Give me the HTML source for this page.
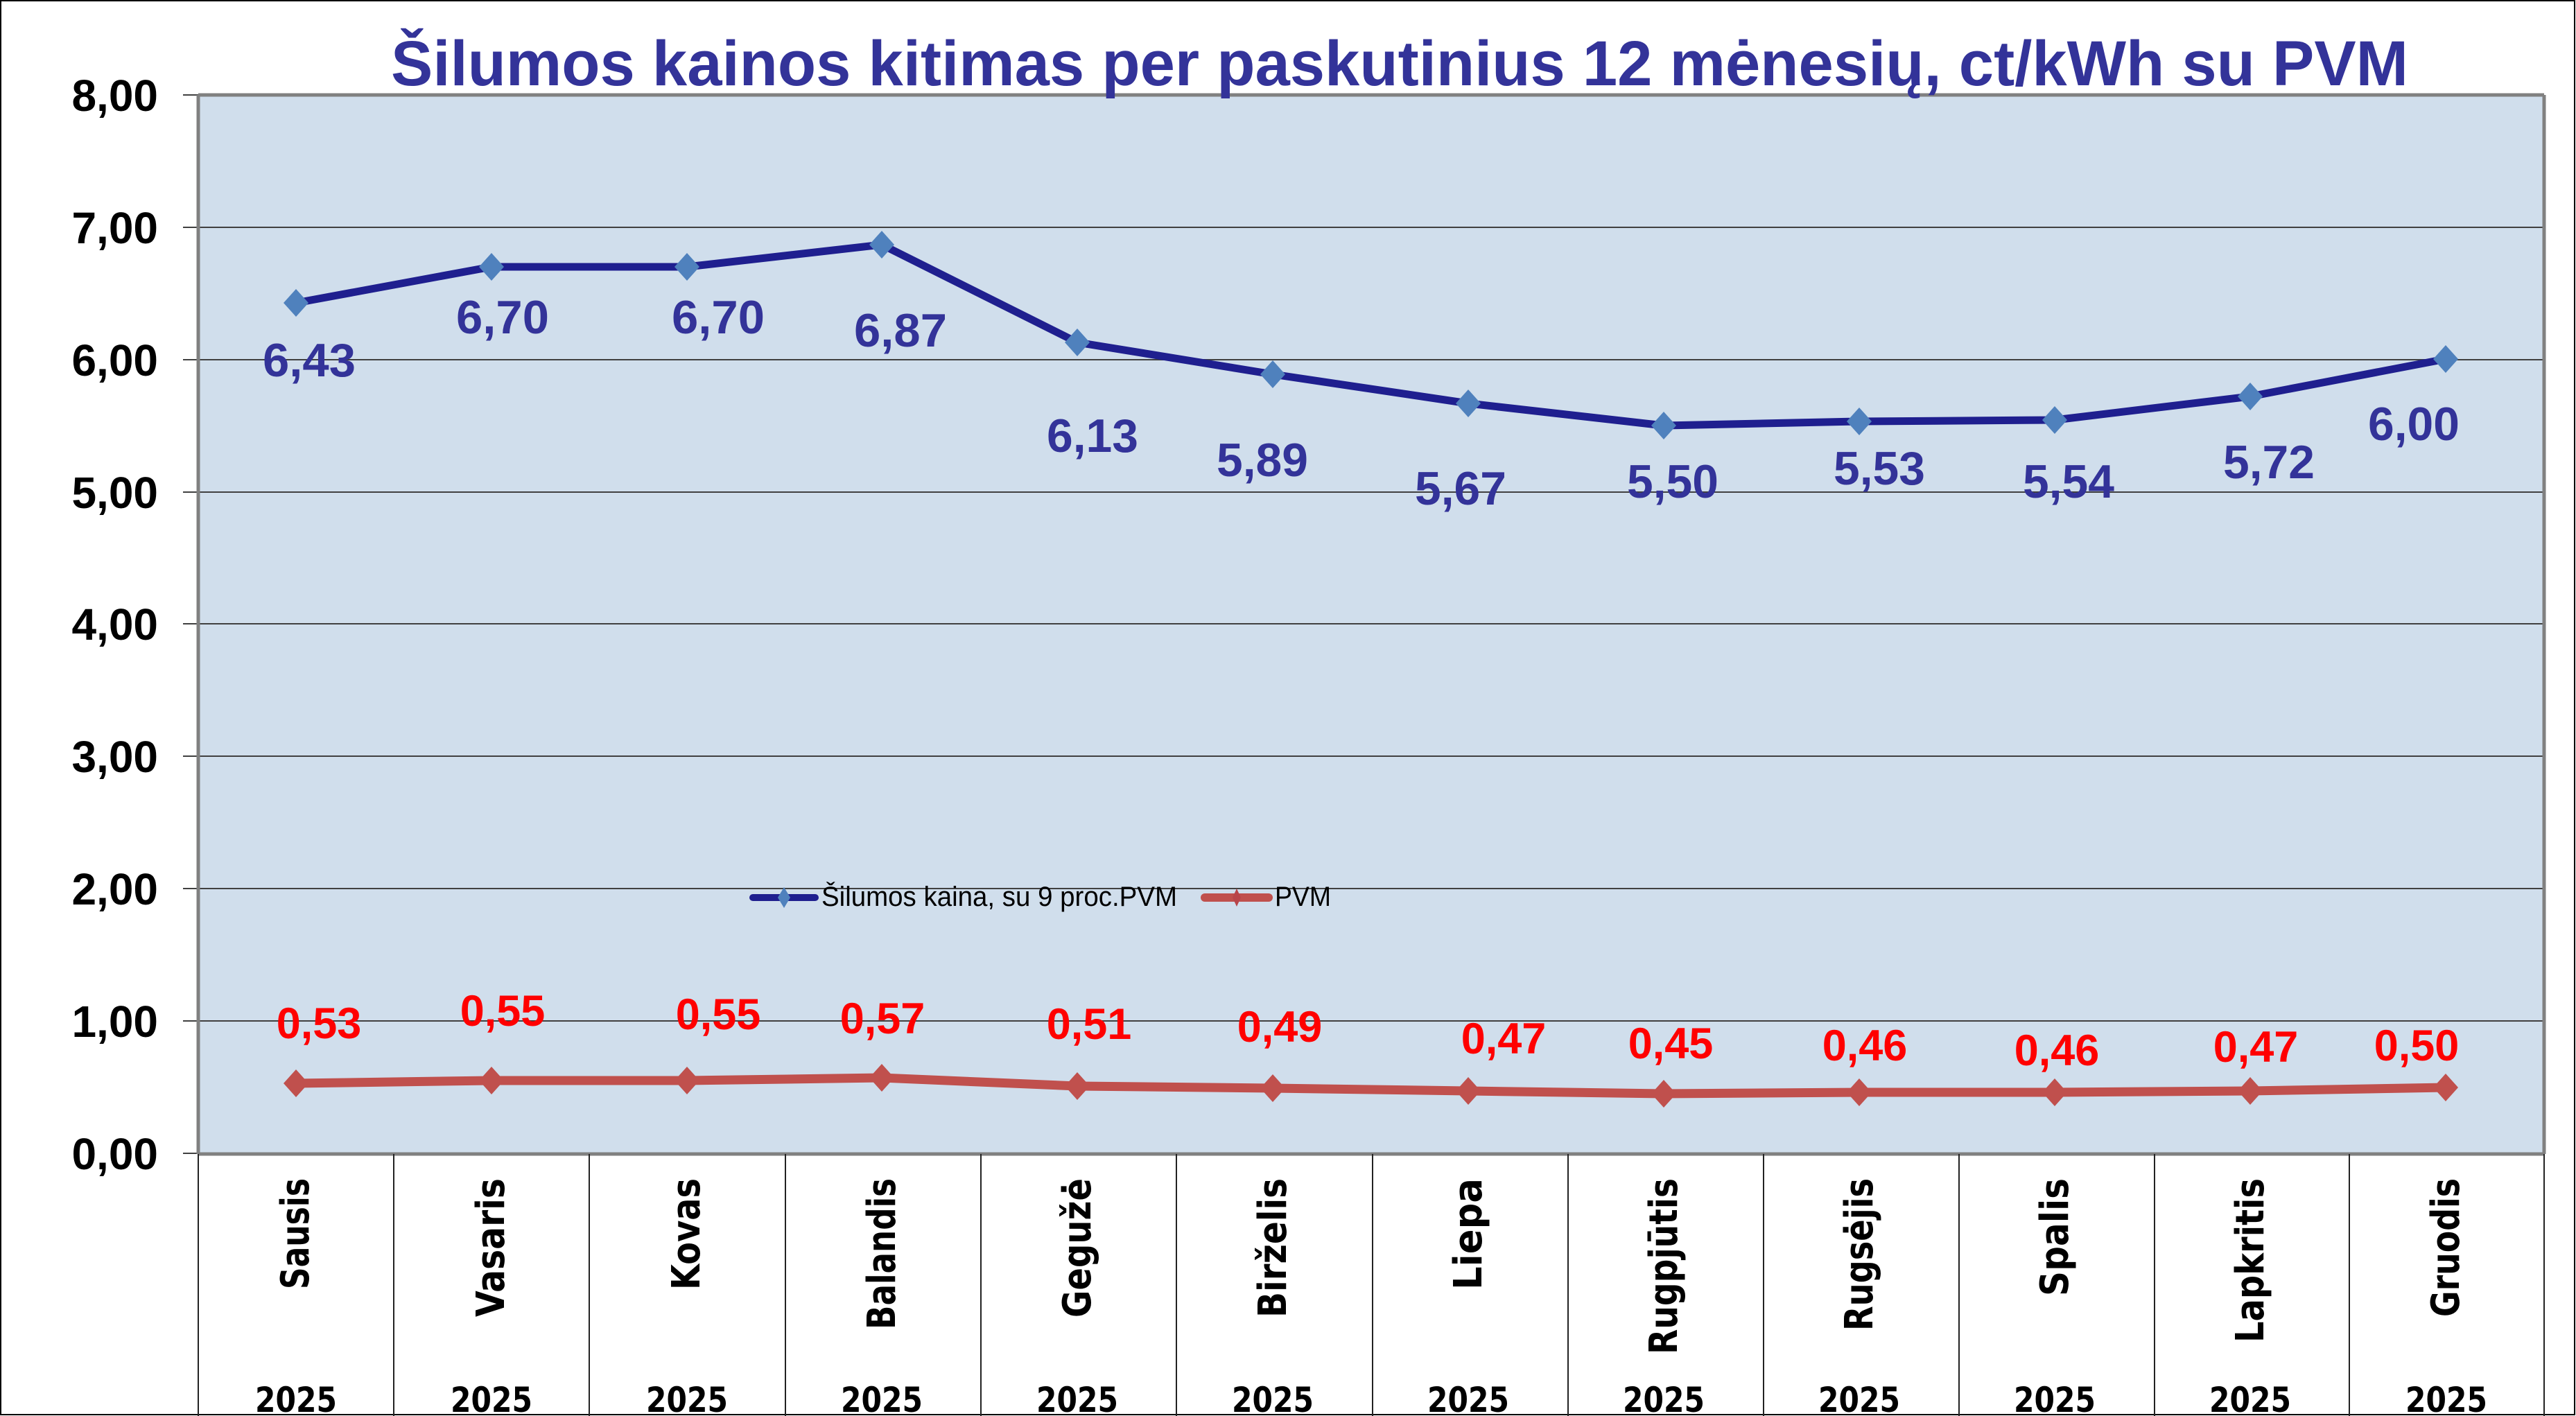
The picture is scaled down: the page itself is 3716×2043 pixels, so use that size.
<!DOCTYPE html>
<html><head><meta charset="utf-8"><style>
html,body{margin:0;padding:0;background:#fff;}
svg{display:block;}
</style></head><body>
<svg width="3716" height="2043" viewBox="0 0 3716 2043" xmlns="http://www.w3.org/2000/svg" font-family="Liberation Sans, DejaVu Sans, sans-serif">
<rect x="0" y="0" width="3716" height="2043" fill="#fff"/>
<rect x="1" y="1" width="3713" height="2040" fill="none" stroke="#000" stroke-width="2"/>
<rect x="286" y="137" width="3384" height="1527" fill="#D0DEEC"/>
<g stroke="#404040" stroke-width="2">
<line x1="264" y1="137" x2="3670" y2="137"/>
<line x1="264" y1="328" x2="3670" y2="328"/>
<line x1="264" y1="519" x2="3670" y2="519"/>
<line x1="264" y1="710" x2="3670" y2="710"/>
<line x1="264" y1="900" x2="3670" y2="900"/>
<line x1="264" y1="1091" x2="3670" y2="1091"/>
<line x1="264" y1="1282" x2="3670" y2="1282"/>
<line x1="264" y1="1473" x2="3670" y2="1473"/>
<line x1="264" y1="1664" x2="286" y2="1664"/>
</g>
<g stroke="#808080" stroke-width="5" fill="none">
<line x1="286" y1="137" x2="3670" y2="137"/>
<line x1="286" y1="137" x2="286" y2="1665"/>
<line x1="3670" y1="137" x2="3670" y2="1665"/>
<line x1="286" y1="1665" x2="3670" y2="1665"/>
</g>
<g stroke="#222" stroke-width="2">
<line x1="286" y1="1665" x2="286" y2="2043"/>
<line x1="568" y1="1665" x2="568" y2="2043"/>
<line x1="850" y1="1665" x2="850" y2="2043"/>
<line x1="1133" y1="1665" x2="1133" y2="2043"/>
<line x1="1415" y1="1665" x2="1415" y2="2043"/>
<line x1="1697" y1="1665" x2="1697" y2="2043"/>
<line x1="1980" y1="1665" x2="1980" y2="2043"/>
<line x1="2262" y1="1665" x2="2262" y2="2043"/>
<line x1="2544" y1="1665" x2="2544" y2="2043"/>
<line x1="2826" y1="1665" x2="2826" y2="2043"/>
<line x1="3108" y1="1665" x2="3108" y2="2043"/>
<line x1="3389" y1="1665" x2="3389" y2="2043"/>
<line x1="3670" y1="1665" x2="3670" y2="2043"/>
</g>
<text x="2019" y="123" text-anchor="middle" font-size="92" font-weight="bold" fill="#333399" textLength="2910" lengthAdjust="spacingAndGlyphs">Šilumos kainos kitimas per paskutinius 12 mėnesių, ct/kWh su PVM</text>
<g font-size="64" font-weight="bold" fill="#000" text-anchor="end">
<text x="228" y="160">8,00</text>
<text x="228" y="351">7,00</text>
<text x="228" y="542">6,00</text>
<text x="228" y="733">5,00</text>
<text x="228" y="923">4,00</text>
<text x="228" y="1114">3,00</text>
<text x="228" y="1305">2,00</text>
<text x="228" y="1496">1,00</text>
<text x="228" y="1687">0,00</text>
</g>
<polyline fill="none" stroke="#1F1F8F" stroke-width="11" stroke-linejoin="round"
points="427,437 709,385 991,385 1272,353 1554,494 1836,540 2118,582 2400,614 2682,608 2964,606 3246,572 3528,518"/>
<g fill="#4F81BD">
<path d="M427,417 l18,20 l-18,20 l-18,-20z"/>
<path d="M709,365 l18,20 l-18,20 l-18,-20z"/>
<path d="M991,365 l18,20 l-18,20 l-18,-20z"/>
<path d="M1272,333 l18,20 l-18,20 l-18,-20z"/>
<path d="M1554,474 l18,20 l-18,20 l-18,-20z"/>
<path d="M1836,520 l18,20 l-18,20 l-18,-20z"/>
<path d="M2118,562 l18,20 l-18,20 l-18,-20z"/>
<path d="M2400,594 l18,20 l-18,20 l-18,-20z"/>
<path d="M2682,588 l18,20 l-18,20 l-18,-20z"/>
<path d="M2964,586 l18,20 l-18,20 l-18,-20z"/>
<path d="M3246,552 l18,20 l-18,20 l-18,-20z"/>
<path d="M3528,498 l18,20 l-18,20 l-18,-20z"/>
</g>
<polyline fill="none" stroke="#C0504D" stroke-width="13" stroke-linejoin="round"
points="427,1563 709,1559 991,1559 1272,1555 1554,1567 1836,1570 2118,1574 2400,1578 2682,1576 2964,1576 3246,1574 3528,1569"/>
<g fill="#C0504D">
<path d="M427,1543 l18,20 l-18,20 l-18,-20z"/>
<path d="M709,1539 l18,20 l-18,20 l-18,-20z"/>
<path d="M991,1539 l18,20 l-18,20 l-18,-20z"/>
<path d="M1272,1535 l18,20 l-18,20 l-18,-20z"/>
<path d="M1554,1547 l18,20 l-18,20 l-18,-20z"/>
<path d="M1836,1550 l18,20 l-18,20 l-18,-20z"/>
<path d="M2118,1554 l18,20 l-18,20 l-18,-20z"/>
<path d="M2400,1558 l18,20 l-18,20 l-18,-20z"/>
<path d="M2682,1556 l18,20 l-18,20 l-18,-20z"/>
<path d="M2964,1556 l18,20 l-18,20 l-18,-20z"/>
<path d="M3246,1554 l18,20 l-18,20 l-18,-20z"/>
<path d="M3528,1549 l18,20 l-18,20 l-18,-20z"/>
</g>
<g font-size="68" font-weight="bold" fill="#333399" text-anchor="middle">
<text x="446" y="543" textLength="134" lengthAdjust="spacingAndGlyphs">6,43</text>
<text x="725" y="481" textLength="134" lengthAdjust="spacingAndGlyphs">6,70</text>
<text x="1036" y="481" textLength="134" lengthAdjust="spacingAndGlyphs">6,70</text>
<text x="1299" y="500" textLength="134" lengthAdjust="spacingAndGlyphs">6,87</text>
<text x="1576" y="652" textLength="132" lengthAdjust="spacingAndGlyphs">6,13</text>
<text x="1821" y="687" textLength="132" lengthAdjust="spacingAndGlyphs">5,89</text>
<text x="2107" y="728" textLength="132" lengthAdjust="spacingAndGlyphs">5,67</text>
<text x="2413" y="718" textLength="132" lengthAdjust="spacingAndGlyphs">5,50</text>
<text x="2711" y="699" textLength="132" lengthAdjust="spacingAndGlyphs">5,53</text>
<text x="2984" y="718" textLength="132" lengthAdjust="spacingAndGlyphs">5,54</text>
<text x="3273" y="690" textLength="132" lengthAdjust="spacingAndGlyphs">5,72</text>
<text x="3482" y="635" textLength="132" lengthAdjust="spacingAndGlyphs">6,00</text>
</g>
<g font-size="63" font-weight="bold" fill="#FF0000" text-anchor="middle">
<text x="460" y="1498">0,53</text>
<text x="725" y="1480">0,55</text>
<text x="1036" y="1485">0,55</text>
<text x="1273" y="1491">0,57</text>
<text x="1571" y="1499">0,51</text>
<text x="1846" y="1503">0,49</text>
<text x="2169" y="1520">0,47</text>
<text x="2410" y="1527">0,45</text>
<text x="2690" y="1530">0,46</text>
<text x="2967" y="1537">0,46</text>
<text x="3254" y="1532">0,47</text>
<text x="3486" y="1530">0,50</text>
</g>
<line x1="1086" y1="1295" x2="1176" y2="1295" stroke="#1F1F8F" stroke-width="10" stroke-linecap="round"/>
<path d="M1131,1280 l9,15 l-9,15 l-9,-15z" fill="#4F81BD"/>
<text x="1185" y="1307" font-size="40" fill="#000" textLength="513" lengthAdjust="spacingAndGlyphs">Šilumos kaina, su 9 proc.PVM</text>
<line x1="1738" y1="1295" x2="1830" y2="1295" stroke="#C0504D" stroke-width="12" stroke-linecap="round"/>
<path d="M1784,1282 l6,13 l-6,13 l-6,-13z" fill="#B8454A"/>
<text x="1839" y="1307" font-size="40" fill="#000" textLength="81" lengthAdjust="spacingAndGlyphs">PVM</text>
<g font-family="DejaVu Sans, sans-serif" font-size="56" font-weight="bold" fill="#000" text-anchor="end">
<text transform="translate(445,1700) rotate(-90)" textLength="160" lengthAdjust="spacingAndGlyphs">Sausis</text>
<text transform="translate(727,1700) rotate(-90)" textLength="200" lengthAdjust="spacingAndGlyphs">Vasaris</text>
<text transform="translate(1009,1700) rotate(-90)" textLength="161" lengthAdjust="spacingAndGlyphs">Kovas</text>
<text transform="translate(1291,1700) rotate(-90)" textLength="218" lengthAdjust="spacingAndGlyphs">Balandis</text>
<text transform="translate(1573,1700) rotate(-90)" textLength="201" lengthAdjust="spacingAndGlyphs">Gegužė</text>
<text transform="translate(1855,1700) rotate(-90)" textLength="201" lengthAdjust="spacingAndGlyphs">Birželis</text>
<text transform="translate(2137,1700) rotate(-90)" textLength="161" lengthAdjust="spacingAndGlyphs">Liepa</text>
<text transform="translate(2419,1700) rotate(-90)" textLength="254" lengthAdjust="spacingAndGlyphs">Rugpjūtis</text>
<text transform="translate(2701,1700) rotate(-90)" textLength="220" lengthAdjust="spacingAndGlyphs">Rugsėjis</text>
<text transform="translate(2983,1700) rotate(-90)" textLength="170" lengthAdjust="spacingAndGlyphs">Spalis</text>
<text transform="translate(3265,1700) rotate(-90)" textLength="237" lengthAdjust="spacingAndGlyphs">Lapkritis</text>
<text transform="translate(3547,1700) rotate(-90)" textLength="200" lengthAdjust="spacingAndGlyphs">Gruodis</text>
</g>
<g font-family="DejaVu Sans, sans-serif" font-size="50" font-weight="bold" fill="#000" text-anchor="middle">
<text x="427" y="2037" textLength="118" lengthAdjust="spacingAndGlyphs">2025</text>
<text x="709" y="2037" textLength="118" lengthAdjust="spacingAndGlyphs">2025</text>
<text x="991" y="2037" textLength="118" lengthAdjust="spacingAndGlyphs">2025</text>
<text x="1272" y="2037" textLength="118" lengthAdjust="spacingAndGlyphs">2025</text>
<text x="1554" y="2037" textLength="118" lengthAdjust="spacingAndGlyphs">2025</text>
<text x="1836" y="2037" textLength="118" lengthAdjust="spacingAndGlyphs">2025</text>
<text x="2118" y="2037" textLength="118" lengthAdjust="spacingAndGlyphs">2025</text>
<text x="2400" y="2037" textLength="118" lengthAdjust="spacingAndGlyphs">2025</text>
<text x="2682" y="2037" textLength="118" lengthAdjust="spacingAndGlyphs">2025</text>
<text x="2964" y="2037" textLength="118" lengthAdjust="spacingAndGlyphs">2025</text>
<text x="3246" y="2037" textLength="118" lengthAdjust="spacingAndGlyphs">2025</text>
<text x="3529" y="2037" textLength="118" lengthAdjust="spacingAndGlyphs">2025</text>
</g>
</svg>
</body></html>
